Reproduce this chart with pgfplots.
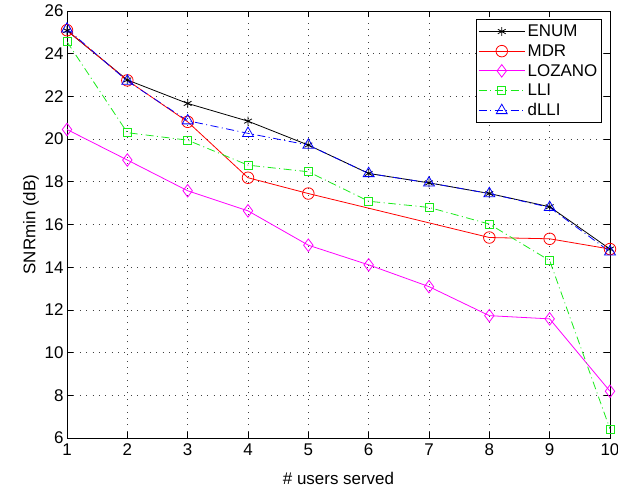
\documentclass[border=0pt]{standalone}
\usepackage{pgfplots}
\pgfplotsset{compat=1.18}
\usepackage{fontspec}
\setmainfont{Liberation Sans}
\definecolor{mgreen}{rgb}{0.1,0.92,0.1}
\definecolor{mmag}{rgb}{1,0,1}
\begin{document}
\begin{tikzpicture}[font=\fontsize{17}{19}\selectfont]
\begin{axis}[
  scale only axis,
  width=543bp, height=427bp,
  xmin=1, xmax=10, ymin=6, ymax=26,
  xtick={1,...,10}, ytick={6,8,...,26},
  tick align=inside, tick pos=both,
  major tick length=6bp,
  grid=major,
  major grid style={black!75, line width=0.7pt, dash pattern=on 0.9pt off 5.5pt},
  axis line style={black, line width=0.7pt},
  tick style={black, line width=0.7pt},
  /pgf/number format/assume math mode=true,
  tick label style={font=\fontsize{17}{19}\selectfont},
  xticklabel style={yshift=-2pt},
  label style={font=\fontsize{17}{19}\selectfont},
  xlabel={\# users served}, ylabel={SNRmin (dB)},
  xlabel style={yshift=-10pt},
  ylabel style={yshift=-1pt},
  legend cell align=left,
  legend style={at={(rel axis cs:0.9855,0.981)}, anchor=north east, draw=black, line width=0.7pt, font=\fontsize{17}{19}\selectfont, row sep=1.5pt, inner xsep=2pt, inner ysep=3pt, nodes={inner sep=2.5pt}},
  legend image code/.code={
    \draw[mark repeat=2,mark phase=2] plot coordinates {(0bp,0bp) (23bp,0bp) (46bp,0bp)};
  },
  every axis plot/.append style={line width=0.8pt, mark size=4pt, mark options={solid, fill=none}},
]
\addplot[black, mark=asterisk, mark size=4.5pt] coordinates {(1,25.08) (2,22.77) (3,21.67) (4,20.84) (5,19.72) (6,18.39) (7,17.95) (8,17.45) (9,16.83) (10,14.85)};
\addlegendentry{ENUM}
\addplot[red, mark=o, mark size=5.8pt] coordinates {(1,25.1) (2,22.75) (3,20.81) (4,18.19) (5,17.45) (8,15.39) (9,15.33) (10,14.85)};
\addlegendentry{MDR}
\addplot[mmag, mark=diamond, mark size=6.3pt] coordinates {(1,20.45) (2,19.02) (3,17.58) (4,16.64) (5,15.03) (6,14.11) (7,13.09) (8,11.73) (9,11.58) (10,8.19)};
\addlegendentry{LOZANO}
\addplot[mgreen, dash pattern=on 8pt off 3.5pt on 1pt off 3.5pt, mark=square, mark size=4pt] coordinates {(1,24.56) (2,20.3) (3,19.95) (4,18.78) (5,18.47) (6,17.09) (7,16.8) (8,16.02) (9,14.31) (10,6.42)};
\addlegendentry{LLI}
\addplot[blue, dash pattern=on 8pt off 3.5pt on 1pt off 3.5pt, mark=triangle, mark size=6.3pt] coordinates {(1,25.16) (2,22.72) (3,20.86) (4,20.27) (5,19.72) (6,18.39) (7,17.95) (8,17.45) (9,16.8) (10,14.72)};
\addlegendentry{dLLI}
\end{axis}
\pgfresetboundingbox
\path ([xshift=-67bp,yshift=-55bp]current axis.south west) rectangle ([xshift=8bp,yshift=11bp]current axis.north east);
\end{tikzpicture}
\end{document}
